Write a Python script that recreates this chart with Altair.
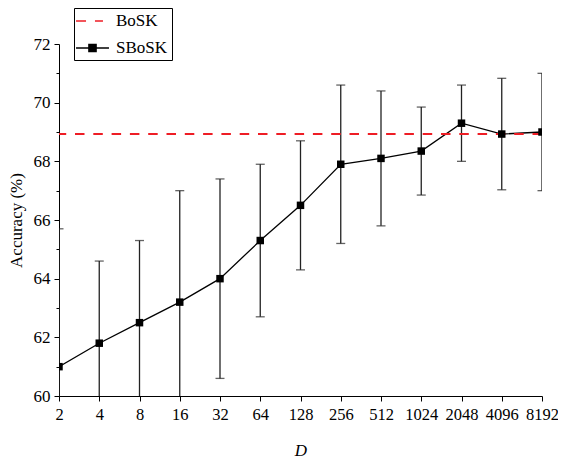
import altair as alt
import pandas as pd

# ---- data ----
D_labels = ["2", "4", "8", "16", "32", "64", "128", "256", "512", "1024", "2048", "4096", "8192"]
sbosk_acc = [61.0, 61.8, 62.5, 63.2, 64.0, 65.3, 66.5, 67.9, 68.1, 68.35, 69.3, 68.93, 69.0]
sbosk_err = [4.7, 2.8, 2.8, 3.8, 3.4, 2.6, 2.2, 2.7, 2.3, 1.5, 1.3, 1.9, 2.0]
bosk_acc = [68.93]
series_names = ["BoSK", "SBoSK"]
y_major = [60, 62, 64, 66, 68, 70, 72]
y_minor = [61, 63, 65, 67, 69, 71]

FONT = "Liberation Serif"
RED = "#ee1d25"

df = pd.DataFrame({"D": D_labels, "acc": sbosk_acc, "err": sbosk_err})
df["lo"] = df["acc"] - df["err"]
df["hi"] = df["acc"] + df["err"]
bosk_df = pd.DataFrame({"acc": bosk_acc})
legend_df = pd.DataFrame({"series": series_names})

x_axis = alt.Axis(title="D", labelAngle=0, tickSize=5, labelPadding=5, labelOverlap=False,
                  grid=False, domainColor="black", tickColor="black", labelColor="black",
                  labelFont=FONT, labelFontSize=16.5, titleFont=FONT, titleFontSize=17,
                  titleFontStyle="italic", titleFontWeight="normal", titleColor="black",
                  titlePadding=20)
x_scale = alt.Scale(type="point", padding=0)
y_scale = alt.Scale(domain=[60, 72], nice=False, zero=False)

y_axis_main = alt.Axis(title="Accuracy (%)", values=y_major, tickSize=5, labelPadding=4,
                       grid=False, domainColor="black", tickColor="black", labelColor="black",
                       labelFont=FONT, labelFontSize=17, titleFont=FONT, titleFontSize=17,
                       titleFontWeight="normal", titleColor="black", titlePadding=8, orient="left")
y_axis_minor = alt.Axis(title=None, values=y_minor, tickSize=3, labels=False, domain=False,
                        grid=False, tickColor="black", orient="left")

X = alt.X("D:O", sort=D_labels, scale=x_scale, axis=x_axis)

bars = alt.Chart(df).mark_rule(clip=True, color="#222222", strokeWidth=1.3).encode(
    x=X, y=alt.Y("lo:Q", scale=y_scale, axis=y_axis_main), y2="hi:Q")
caps_hi = alt.Chart(df).mark_tick(clip=True, color="#222222", size=9, thickness=1.3).encode(
    x=X, y=alt.Y("hi:Q", scale=y_scale, axis=None))
caps_lo = alt.Chart(df).mark_tick(clip=True, color="#222222", size=9, thickness=1.3).encode(
    x=X, y=alt.Y("lo:Q", scale=y_scale, axis=None))
line = alt.Chart(df).mark_line(clip=True, color="black", strokeWidth=1.3).encode(
    x=X, y=alt.Y("acc:Q", scale=y_scale, axis=y_axis_minor))
bosk = alt.Chart(bosk_df).mark_rule(clip=True, color=RED, strokeWidth=2,
                                    strokeDash=[9.5, 8.8]).encode(
    y=alt.Y("acc:Q", scale=y_scale, axis=None))
squares = alt.Chart(df).mark_square(clip=True, color="black", size=56, opacity=1).encode(
    x=X, y=alt.Y("acc:Q", scale=y_scale, axis=None))

# legend carrier (hidden marks, legend only)
path_bosk = "M-2.06,0H-0.81M0.31,0H1.31"
path_sbosk = "M-2.06,0H2.06M-0.44,-0.44H0.44V0.44H-0.44Z"
leg = alt.Legend(title=None, orient="none", legendX=15, legendY=-36, direction="vertical",
                 padding=4, symbolOffset=5.5, labelOffset=14.5, rowPadding=10,
                 symbolSize=256, symbolStrokeWidth=1.6, symbolOpacity=1,
                 strokeColor="black", fillColor="white", labelFont=FONT, labelFontSize=17,
                 labelColor="black", labelLimit=0)
legend_layer = alt.Chart(legend_df).mark_point(filled=True, clip=True, size=256).encode(
    x=alt.value(-300), y=alt.value(-300),
    shape=alt.Shape("series:N", scale=alt.Scale(domain=series_names, range=[path_bosk, path_sbosk]), legend=leg),
    fill=alt.Fill("series:N", scale=alt.Scale(domain=series_names, range=[RED, "black"]), legend=leg),
    stroke=alt.Stroke("series:N", scale=alt.Scale(domain=series_names, range=[RED, "black"]), legend=leg),
)

chart = alt.layer(bars, caps_hi, caps_lo, line, bosk, squares, legend_layer).resolve_axis(
    y="independent"
).properties(
    width=483, height=352,
    autosize=alt.AutoSizeParams(type="none"),
    padding={"left": 51, "top": 36, "right": 16, "bottom": 63},
).configure_view(stroke=None)

chart.save("out.html", embed_options={"renderer": "svg", "actions": False})
